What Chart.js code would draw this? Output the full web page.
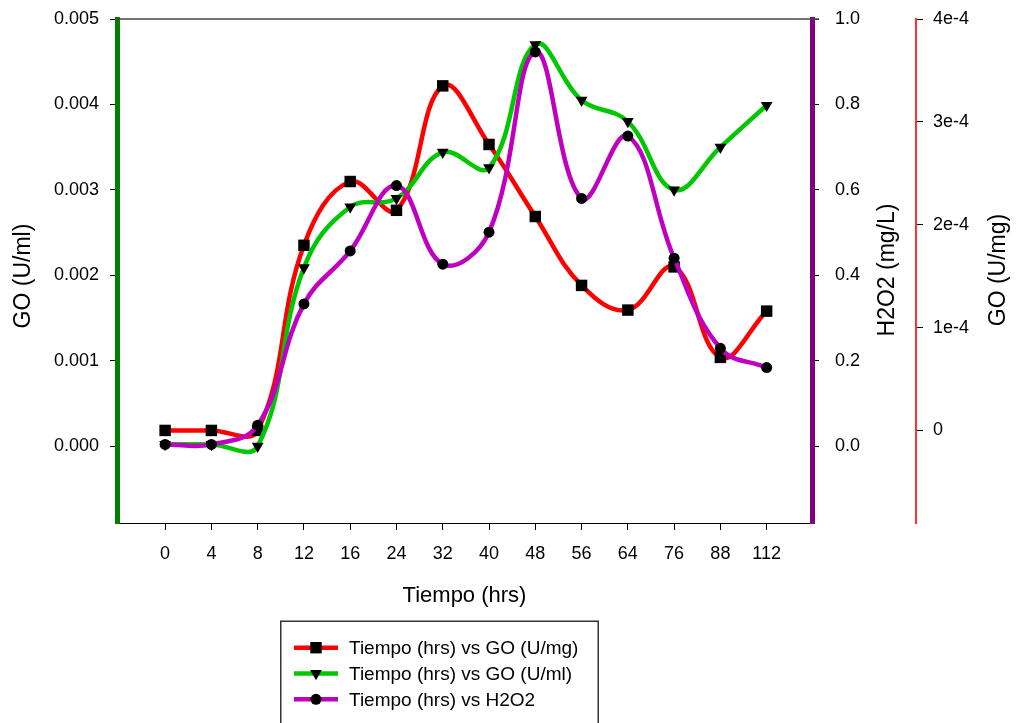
<!DOCTYPE html>
<html><head><meta charset="utf-8">
<script src="https://cdn.jsdelivr.net/npm/chart.js@4.4.1/dist/chart.umd.min.js"></script>
<style>html,body{margin:0;padding:0;background:#fff;}#wrap{width:1017px;height:723px;position:relative;}</style>
</head><body><div id="wrap"><canvas id="c"></canvas></div>
<script>
// ---- data ----
const timeLabels = ['0','4','8','12','16','24','32','40','48','56','64','76','88','112'];
const goUmg = [0, 0, 0, 1.80e-4, 2.42e-4, 2.14e-4, 3.35e-4, 2.78e-4, 2.08e-4, 1.41e-4, 1.17e-4, 1.59e-4, 0.71e-4, 1.16e-4];
const goUml = [0.00002, 0.00002, 0, 0.00209, 0.00280, 0.00290, 0.00344, 0.00326, 0.00470, 0.00405, 0.00380, 0.00300, 0.00350, 0.00399];
const h2o2 = [0.004, 0.004, 0.049, 0.333, 0.457, 0.610, 0.426, 0.501, 0.923, 0.580, 0.726, 0.440, 0.229, 0.184];
const leftTicks = [0, 0.001, 0.002, 0.003, 0.004, 0.005];
const h2o2Ticks = [0, 0.2, 0.4, 0.6, 0.8, 1.0];
const rightTicks = [0, 1e-4, 2e-4, 3e-4, 4e-4];
const rightTickLabels = ['0', '1e-4', '2e-4', '3e-4', '4e-4'];
const seriesNames = ['Tiempo (hrs) vs GO (U/mg)', 'Tiempo (hrs) vs GO (U/ml)', 'Tiempo (hrs) vs H2O2'];
const xTitle = 'Tiempo (hrs)';
const yTitles = ['GO (U/ml)', 'H2O2 (mg/L)', 'GO (U/mg)'];

// ---- chart ----
const FAM = "'Liberation Sans', Arial, Helvetica, sans-serif";
Chart.defaults.font.family = FAM;
Chart.defaults.color = '#000';
const toXY = arr => arr.map((v, i) => ({x: i, y: v}));
const colors = ['#ff0000', '#00c800', '#c000c0'];
const styles = ['rect', 'triangle', 'circle'];

function drawMarker(ctx, style, x, y) {
  ctx.fillStyle = '#000';
  ctx.beginPath();
  if (style === 'rect') {
    ctx.rect(x - 5.7, y - 5.7, 11.4, 11.4);
  } else if (style === 'triangle') {
    const r = 6.8;
    ctx.moveTo(x, y + r);
    ctx.lineTo(x - r * Math.sqrt(3) / 2, y - r / 2);
    ctx.lineTo(x + r * Math.sqrt(3) / 2, y - r / 2);
    ctx.closePath();
  } else {
    ctx.arc(x, y, 5.5, 0, Math.PI * 2);
  }
  ctx.fill();
}

const extras = {
  id: 'extras',
  afterDraw(chart) {
    const ctx = chart.ctx, a = chart.chartArea;
    ctx.save();
    // top frame line
    ctx.strokeStyle = '#444';
    ctx.lineWidth = 1.5;
    ctx.beginPath();
    ctx.moveTo(a.left, a.top);
    ctx.lineTo(a.right + 7, a.top);
    ctx.stroke();
    // y titles (rotated, reading bottom to top)
    ctx.fillStyle = '#000';
    ctx.font = '23px ' + FAM;
    ctx.textAlign = 'center';
    ctx.textBaseline = 'middle';
    const pos = [[24, 276], [887.5, 270], [998.5, 270]];
    yTitles.forEach((t, i) => {
      ctx.save();
      ctx.translate(pos[i][0], pos[i][1]);
      ctx.rotate(-Math.PI / 2);
      ctx.fillText(t, 0, 0);
      ctx.restore();
    });
    // legend
    ctx.strokeStyle = '#333';
    ctx.lineWidth = 1.5;
    ctx.strokeRect(280.75, 621.25, 317.5, 120);
    ctx.font = '19px ' + FAM;
    ctx.textAlign = 'left';
    seriesNames.forEach((n, i) => {
      const y = 647.7 + i * 25.8;
      ctx.strokeStyle = colors[i];
      ctx.lineWidth = 4.5;
      ctx.beginPath();
      ctx.moveTo(294, y);
      ctx.lineTo(338, y);
      ctx.stroke();
      drawMarker(ctx, styles[i], 316, y);
      ctx.fillStyle = '#000';
      ctx.fillText(n, 349, y + 1);
    });
    ctx.restore();
  }
};

const tickFont = {family: FAM, size: 18};
const noPad = s => { s.paddingTop = 0; s.paddingBottom = 0; };

new Chart(document.getElementById('c'), {
  type: 'line',
  data: {
    datasets: [
      {label: seriesNames[0], data: toXY(goUmg), yAxisID: 'y2', borderColor: colors[0], borderWidth: 4.5,
       pointStyle: 'rect', pointRadius: 8.1, pointBackgroundColor: '#000', pointBorderWidth: 0, tension: 0.4, order: 2},
      {label: seriesNames[1], data: toXY(goUml), yAxisID: 'y', borderColor: colors[1], borderWidth: 4.5,
       pointStyle: 'triangle', pointRotation: 180, pointRadius: 6.8, pointBackgroundColor: '#000', pointBorderWidth: 0, tension: 0.4, order: 1},
      {label: seriesNames[2], data: toXY(h2o2), yAxisID: 'y1', borderColor: colors[2], borderWidth: 4.5,
       pointStyle: 'circle', pointRadius: 5.5, pointBackgroundColor: '#000', pointBorderWidth: 0, tension: 0.4, order: 0}
    ]
  },
  options: {
    responsive: true,
    maintainAspectRatio: false,
    animation: false,
    layout: {padding: {top: 19, bottom: 110, left: 0, right: 0}},
    plugins: {legend: {display: false}, tooltip: {enabled: false}},
    scales: {
      x: {
        type: 'linear', position: 'bottom', min: -1.04, max: 13.98,
        afterBuildTicks: s => { s.ticks = timeLabels.map((_, i) => ({value: i})); },
        ticks: {callback: v => timeLabels[v], font: tickFont, color: '#000', padding: 13, maxRotation: 0, autoSkip: false},
        grid: {drawOnChartArea: false, drawTicks: true, tickLength: 7, color: '#000'},
        border: {display: true, color: '#000', width: 1},
        title: {display: true, text: xTitle, font: {family: FAM, size: 22}, color: '#000', padding: {top: 4, bottom: 4}},
        afterFit: s => { s.height = 90; s.paddingLeft = 0; s.paddingRight = 0; }
      },
      y: {
        type: 'linear', position: 'left', min: -0.0009, max: 0.005,
        afterBuildTicks: s => { s.ticks = leftTicks.map(v => ({value: v})); },
        ticks: {callback: v => v.toFixed(3), font: tickFont, color: '#000', padding: 11},
        grid: {drawOnChartArea: false, drawTicks: true, tickLength: 7, color: '#000'},
        border: {display: true, color: '#008000', width: 5},
        afterFit: s => { s.width = 117; noPad(s); }
      },
      y1: {
        type: 'linear', position: 'right', weight: 0, min: -0.18, max: 1.0,
        afterBuildTicks: s => { s.ticks = h2o2Ticks.map(v => ({value: v})); },
        ticks: {callback: v => v.toFixed(1), font: tickFont, color: '#000', padding: 16},
        grid: {drawOnChartArea: false, drawTicks: true, tickLength: 7, color: '#000'},
        border: {display: true, color: '#800080', width: 5},
        afterFit: s => { s.width = 104; noPad(s); }
      },
      y2: {
        type: 'linear', position: 'right', weight: 1, min: -0.9e-4, max: 4e-4,
        afterBuildTicks: s => { s.ticks = rightTicks.map(v => ({value: v})); },
        ticks: {callback: (v, i) => rightTickLabels[i], font: tickFont, color: '#000', padding: 10},
        grid: {drawOnChartArea: false, drawTicks: true, tickLength: 7, color: '#000'},
        border: {display: true, color: '#ff3030', width: 2},
        afterFit: s => { s.width = 101; noPad(s); }
      }
    }
  },
  plugins: [extras]
});
</script>
</body></html>
